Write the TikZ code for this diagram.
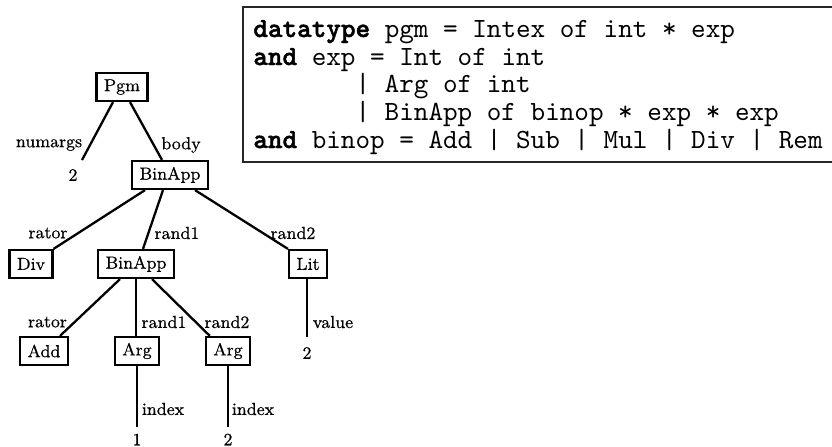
\documentclass[tikz,border=0pt]{standalone}
\usepackage{fontspec}
\setmonofont{lmmono10-regular}[Extension=.otf,BoldFont=lmmonolt10-bold,BoldFeatures={FakeBold=1.6}]
\newfontfamily\treefam{Latin Modern Roman}[FakeBold=0.6]
\usetikzlibrary{calc}
\begin{document}
\begin{tikzpicture}[x=0.5pt,y=-0.5pt,
  treefont/.style={font=\treefam\fontsize{8.7}{10}\selectfont},
  tnode/.style={treefont,draw,line width=1.1pt,inner xsep=3.7pt,inner ysep=0pt,minimum height=14pt},
  leaf/.style={treefont,inner sep=0pt},
  elabel/.style={treefont,inner sep=0pt},
  edge/.style={line width=1.15pt},
  codeline/.style={anchor=base west,inner sep=0pt,font=\fontsize{13.9}{15}\selectfont\ttfamily}]
\useasboundingbox (0,0) rectangle (832,446);

% datatype declaration
\draw[line width=0.6pt,draw=black!85] (243,7) rectangle (850,162);
\node[codeline] (c1) at (253,37)    {\textbf{datatype} pgm = Intex of int * exp};
\node[codeline] (c2) at (253,65)    {\textbf{and} exp = Int of int};
\node[codeline] (c3) at (253,92.5)  {\hphantom{and exp}| Arg of int};
\node[codeline] (c4) at (253,120)   {\hphantom{and exp}| BinApp of binop * exp * exp};
\node[codeline] (c5) at (253,148)   {\textbf{and} binop = Add | Sub | Mul | Div | Rem};

% tree nodes
\node[tnode] (pgm)  at (122,87)  {Pgm};
\node[tnode] (bin1) at (170,175) {BinApp};
\node[tnode] (div)  at (31,264)  {Div};
\node[tnode] (bin2) at (136,264) {BinApp};
\node[tnode] (lit)  at (308,264) {Lit};
\node[tnode] (add)  at (44,351)  {Add};
\node[tnode] (arg1) at (137,351) {Arg};
\node[tnode] (arg2) at (228,351) {Arg};

% leaves
\node[leaf] (n2) at (73,175)  {2};
\node[leaf] (v2) at (307,353) {2};
\node[leaf] (i1) at (137,439.5) {1};
\node[leaf] (i2) at (228,439.5) {2};

% edges
\draw[edge] ($(pgm.south)+(-9,0)$) -- ($(n2)+(9,-15)$);
\draw[edge] ($(pgm.south)+(8,0)$) -- ($(bin1.north)+(-8,0)$);
\draw[edge] ($(bin1.south)+(-25,0)$) -- (div.north east);
\draw[edge] ($(bin1.south)+(-7,0)$) -- ($(bin2.north)+(7,0)$);
\draw[edge] ($(bin1.south)+(25,0)$) -- (lit.north west);
\draw[edge] ($(lit.south)+(-1,0)$) -- ($(v2)+(0,-16)$);
\draw[edge] ($(bin2.south)+(-16,0)$) -- ($(add.north)+(16,0)$);
\draw[edge] (bin2.south) -- (bin2.south |- arg1.north);
\draw[edge] ($(bin2.south)+(16,0)$) -- ($(arg2.north west)+(5,0)$);
\draw[edge] (arg1.south) -- ($(i1)+(0,-13)$);
\draw[edge] (arg2.south) -- ($(i2)+(0,-13)$);

% edge labels
\node[elabel] (l1)  at (49,145)   {numargs};
\node[elabel] (l2)  at (181,145)  {body};
\node[elabel] (l3)  at (48,233)   {rator};
\node[elabel] (l4)  at (177,233)  {rand1};
\node[elabel] (l5)  at (293,233)  {rand2};
\node[elabel] (l6)  at (333,322)  {value};
\node[elabel] (l7)  at (47.5,322) {rator};
\node[elabel] (l8)  at (164,322)  {rand1};
\node[elabel] (l9)  at (227,322)  {rand2};
\node[elabel] (l10) at (163,409)  {index};
\node[elabel] (l11) at (253,409)  {index};
\end{tikzpicture}
\end{document}
